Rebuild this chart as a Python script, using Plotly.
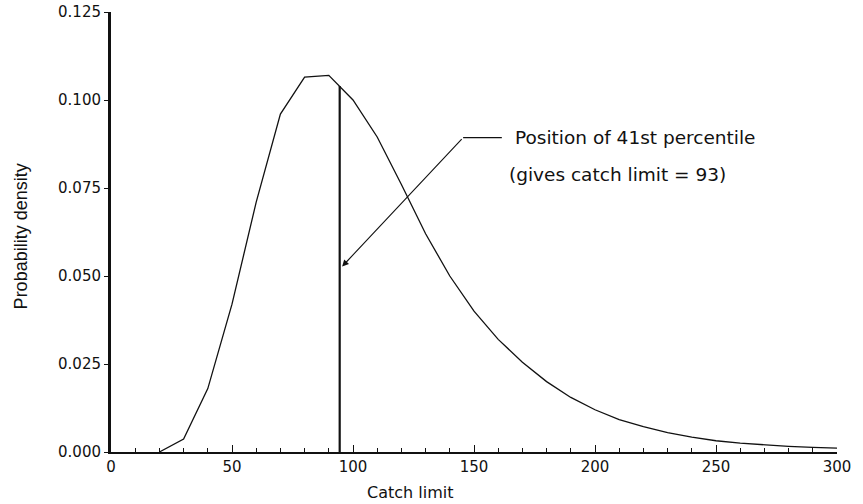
import plotly.graph_objects as go

# ---- data ----
catch_limit = [20, 30, 40, 50, 60, 70, 80, 90, 100, 110, 120, 130, 140, 150, 160, 170,
               180, 190, 200, 210, 220, 230, 240, 250, 260, 270, 280, 290, 300]
density = [0.0, 0.0037, 0.018, 0.042, 0.071, 0.096, 0.1065, 0.107, 0.100, 0.0895, 0.076,
           0.062, 0.050, 0.040, 0.032, 0.0255, 0.020, 0.0155, 0.0120, 0.0092, 0.0072,
           0.0055, 0.0042, 0.0032, 0.0025, 0.0020, 0.0016, 0.0013, 0.0011]

percentile_x = [94.5, 94.5]
percentile_y = [0.0, 0.104]

x_ticks = [0, 50, 100, 150, 200, 250, 300]
y_ticks = [0.0, 0.025, 0.05, 0.075, 0.1, 0.125]

label_line1 = "Position of 41st percentile"
label_line2 = "(gives catch limit = 93)"

# arrow geometry (data units)
arrow_tip = (95.5, 0.0527)
arrow_elbow = (145.5, 0.0893)
arrow_end_x = 161.5

INK = "#111111"
TICKFONT = dict(family="DejaVu Sans", size=15, color=INK)

fig = go.Figure()
fig.add_trace(go.Scatter(x=catch_limit, y=density, mode="lines",
                         line=dict(color=INK, width=1.3), hoverinfo="skip", showlegend=False))
fig.add_trace(go.Scatter(x=percentile_x, y=percentile_y, mode="lines",
                         line=dict(color=INK, width=2.2), hoverinfo="skip", showlegend=False))

# elbow leader line
fig.add_shape(type="line", xref="x", yref="y",
              x0=arrow_elbow[0], y0=arrow_elbow[1], x1=arrow_end_x, y1=arrow_elbow[1],
              line=dict(color=INK, width=1.1))
fig.add_annotation(x=arrow_tip[0], y=arrow_tip[1], ax=arrow_elbow[0], ay=arrow_elbow[1],
                   xref="x", yref="y", axref="x", ayref="y", text="",
                   showarrow=True, arrowhead=2, arrowsize=1.2, arrowwidth=1.1, arrowcolor=INK)

fig.add_annotation(x=166, y=0.0894, xref="x", yref="y", text=label_line1, showarrow=False,
                   xanchor="left", yanchor="middle",
                   font=dict(family="DejaVu Sans", size=18.5, color=INK))
fig.add_annotation(x=163.5, y=0.0789, xref="x", yref="y", text=label_line2, showarrow=False,
                   xanchor="left", yanchor="middle",
                   font=dict(family="DejaVu Sans", size=18.5, color=INK))

# axis titles
fig.add_annotation(x=123.5, y=-0.091, xref="x", yref="paper", text="Catch limit",
                   showarrow=False, xanchor="center", yanchor="middle",
                   font=dict(family="DejaVu Sans", size=16, color=INK))
fig.add_annotation(x=-0.124, y=0.49, xref="paper", yref="paper", text="Probability density",
                   showarrow=False, textangle=-90, xanchor="center", yanchor="middle",
                   font=dict(family="Liberation Sans", size=18, color=INK))

fig.update_xaxes(range=[0, 300], tickvals=x_ticks, ticktext=[str(v) for v in x_ticks],
                 showgrid=False, zeroline=False, showline=True, linecolor=INK, linewidth=2,
                 ticks="inside", ticklen=7, tickwidth=1, tickcolor=INK, tickfont=TICKFONT,
                 automargin=False,
                 minor=dict(dtick=10, tick0=0, ticks="inside", ticklen=4, tickwidth=1,
                            tickcolor=INK, showgrid=False))
fig.update_yaxes(range=[0, 0.125], tickvals=y_ticks, ticktext=[f"{v:.3f}" for v in y_ticks],
                 showgrid=False, zeroline=False, showline=True, linecolor=INK, linewidth=3,
                 ticks="outside", ticklen=4, tickwidth=1, tickcolor=INK, tickfont=TICKFONT,
                 automargin=False)

fig.update_layout(width=863, height=504, margin=dict(l=111, r=26, t=12, b=52),
                  paper_bgcolor="white", plot_bgcolor="white", showlegend=False)

fig.write_html("out.html")
